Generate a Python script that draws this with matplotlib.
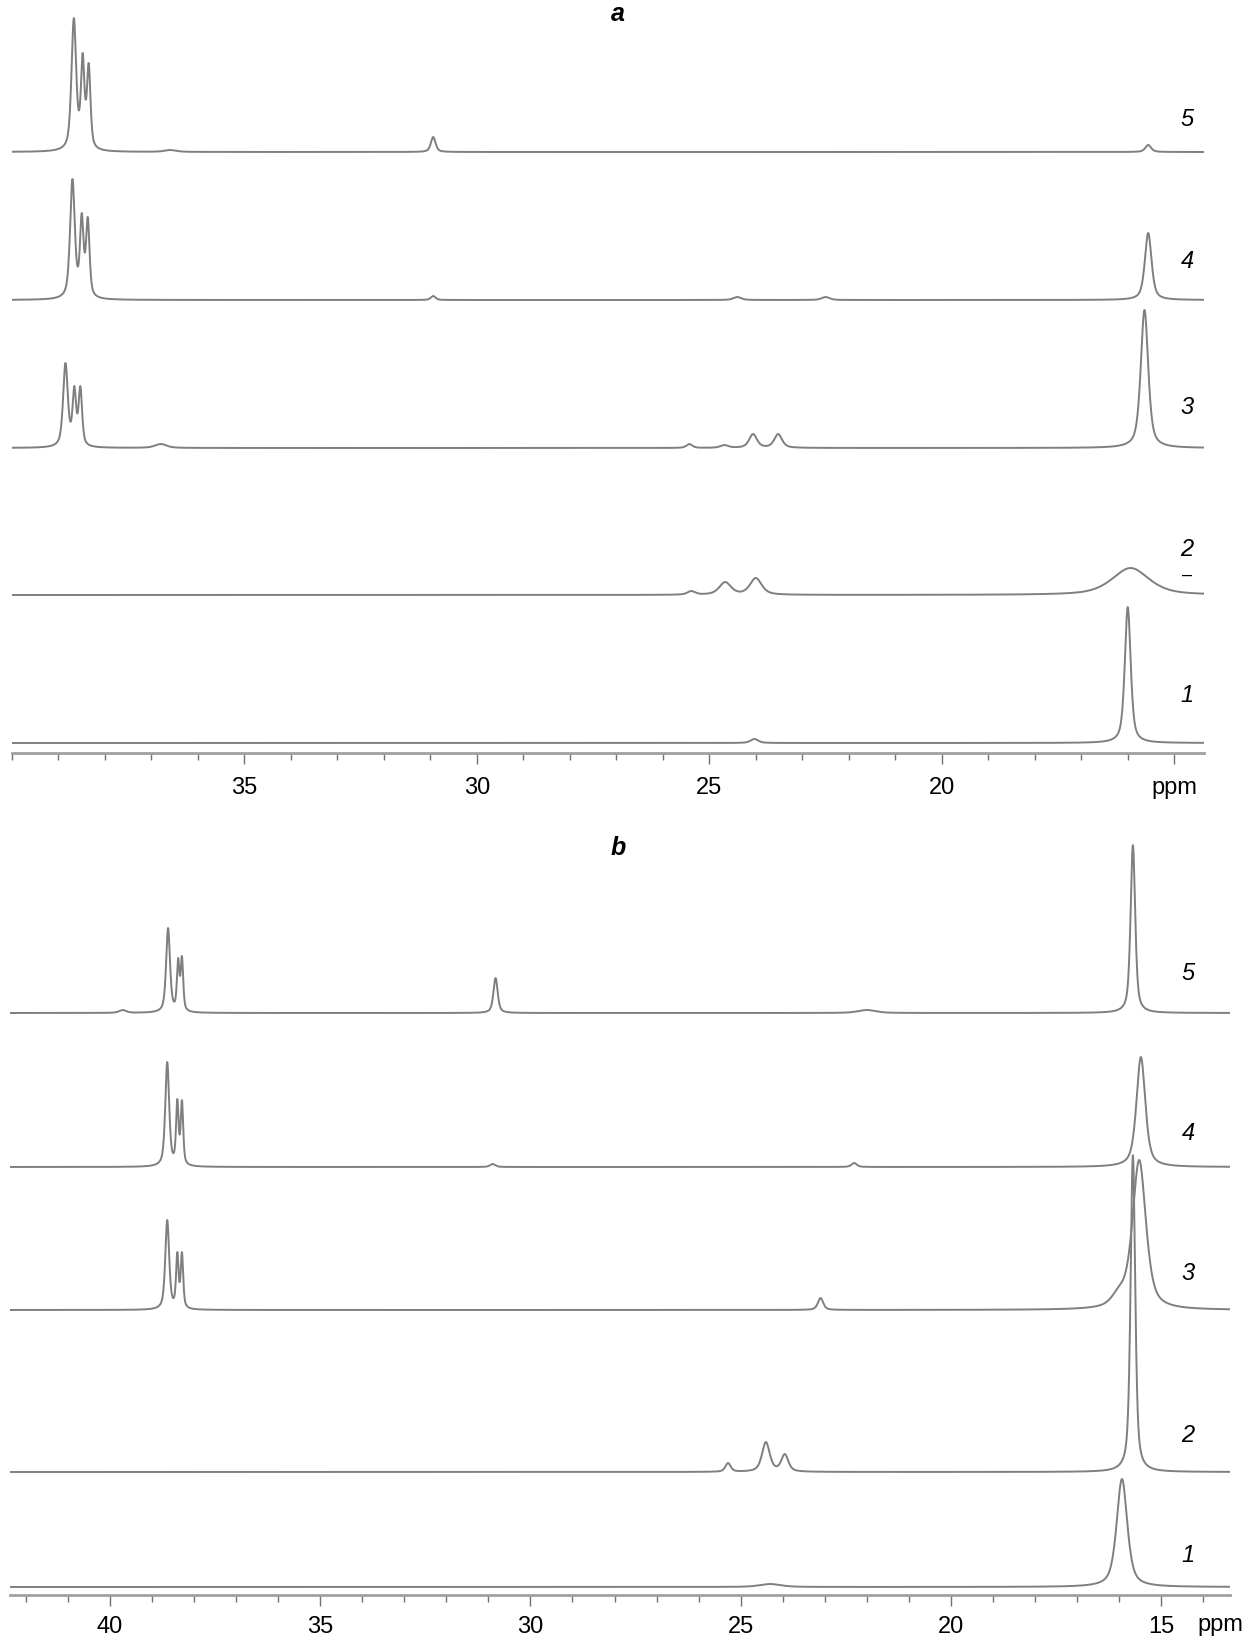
#!/usr/bin/env python
"""
plot.py

Stacked 13C NMR spectra, two panels (a, b), five traces each.
Each trace is built as a sum of pseudo-Voigt lines read off the figure.
Heights are the apex heights seen in the figure (px above the trace baseline).
"""

import numpy as np
import matplotlib
matplotlib.use('Agg')
import matplotlib.pyplot as plt
from matplotlib.ticker import MultipleLocator, FixedLocator

plt.rcParams['font.family'] = ['Liberation Sans', 'DejaVu Sans']

# ---- panel a : peak positions (ppm), apex heights (px), widths (ppm) ----
a5_ppm = [38.67, 38.48, 38.35, 36.6, 30.94, 15.56]
a5_hgt = [134, 99, 89, 2, 15, 7]
a5_wid = [0.12, 0.09, 0.09, 0.3, 0.12, 0.15]

a4_ppm = [38.70, 38.50, 38.37, 30.94, 24.4, 22.5, 15.56]
a4_hgt = [121, 87, 83, 4, 3, 3, 67]
a4_wid = [0.12, 0.09, 0.09, 0.12, 0.2, 0.2, 0.17]

a3_ppm = [38.85, 38.66, 38.53, 36.8, 25.43, 24.68, 24.06, 23.52, 15.64]
a3_hgt = [85, 62, 62, 4, 4, 3, 14, 14, 138]
a3_wid = [0.12, 0.09, 0.09, 0.3, 0.15, 0.2, 0.2, 0.2, 0.19]

a2_ppm = [25.39, 24.66, 24.00, 15.94]
a2_hgt = [4, 13, 17, 27]
a2_wid = [0.2, 0.3, 0.3, 0.95]

a1_ppm = [24.03, 16.00]
a1_hgt = [4, 136]
a1_wid = [0.2, 0.15]

# ---- panel b ----
b5_ppm = [39.7, 38.62, 38.38, 38.29, 30.83, 22.0, 15.67]
b5_hgt = [3, 85, 55, 57, 35, 3, 168]
b5_wid = [0.2, 0.11, 0.07, 0.07, 0.12, 0.5, 0.13]

b4_ppm = [38.64, 38.40, 38.29, 30.9, 22.3, 15.48]
b4_hgt = [105, 68, 67, 3, 4, 110]
b4_wid = [0.11, 0.07, 0.07, 0.15, 0.15, 0.25]

b3_ppm = [38.64, 38.40, 38.29, 23.1, 16.0, 15.52]
b3_hgt = [90, 58, 58, 12, 24, 150]
b3_wid = [0.11, 0.07, 0.07, 0.15, 0.4, 0.38]

b2_ppm = [25.3, 24.40, 23.95, 15.67]
b2_hgt = [9, 30, 18, 317]
b2_wid = [0.15, 0.22, 0.2, 0.13]

b1_ppm = [24.3, 15.93]
b1_hgt = [3, 108]
b1_wid = [0.6, 0.3]

trace_names = ['1', '2', '3', '4', '5']

W, H = 1253, 1642
LINE = '#7f7f7f'
ETA = 0.6   # lorentzian share of the line shape


def line_shape(x, p, w):
    d = (x - p) / w
    lor = 1.0 / (1.0 + 4.0 * d ** 2)
    gau = np.exp(-4.0 * np.log(2.0) * d ** 2)
    return ETA * lor + (1 - ETA) * gau


def spectrum(x, ppm, hgt, wid):
    # amplitudes chosen so that the summed curve hits the apex heights
    ppm = np.asarray(ppm, float)
    m = np.array([[line_shape(pi, pj, wj) for pj, wj in zip(ppm, wid)] for pi in ppm])
    amp = np.linalg.solve(m, np.asarray(hgt, float))
    y = np.zeros_like(x)
    for p, a, w in zip(ppm, amp, wid):
        y += a * line_shape(x, p, w)
    return y


def setup_axis(ax, xl, xr, ylim):
    ax.set_xlim(xl, xr)
    ax.set_ylim(0, ylim)
    for s in ('top', 'left', 'right'):
        ax.spines[s].set_visible(False)
    ax.spines['bottom'].set_color('#a0a0a0')
    ax.spines['bottom'].set_linewidth(2.0)
    ax.set_yticks([])
    ax.xaxis.set_minor_locator(MultipleLocator(1))
    ax.tick_params(axis='x', which='major', direction='out', length=8,
                   width=1.0, color='#707070', labelsize=17, pad=9)
    ax.tick_params(axis='x', which='minor', direction='out', length=5,
                   width=1.0, color='#707070')
    ax.patch.set_alpha(0)


def px_axes(fig, x0, x1, y_top, y_bot):
    # axes given in figure pixels (y counted from the top)
    return fig.add_axes([x0 / W, 1 - y_bot / H, (x1 - x0) / W, (y_bot - y_top) / H])


def main():
    fig = plt.figure(figsize=(W / 100, H / 100), dpi=100)

    # panel a
    axa = px_axes(fig, 12, 1204, 0, 753)
    setup_axis(axa, 40.0, 14.36, 753)
    xa = np.linspace(40.0, 14.36, 6000)
    a_traces = [(a1_ppm, a1_hgt, a1_wid), (a2_ppm, a2_hgt, a2_wid),
                (a3_ppm, a3_hgt, a3_wid), (a4_ppm, a4_hgt, a4_wid),
                (a5_ppm, a5_hgt, a5_wid)]
    a_offsets = [10, 158, 305, 453, 601]
    for (p, h, w), off in zip(a_traces, a_offsets):
        axa.plot(xa, off + spectrum(xa, p, h, w), color=LINE, lw=1.4)
    axa.xaxis.set_major_locator(FixedLocator([35, 30, 25, 20, 15]))
    axa.set_xticklabels(['35', '30', '25', '20', 'ppm'])

    # panel b
    axb = px_axes(fig, 10, 1230, 820, 1595)
    setup_axis(axb, 42.38, 13.36, 775)
    axb.tick_params(axis='x', which='major', pad=7)
    xb = np.linspace(42.38, 13.36, 6000)
    b_traces = [(b1_ppm, b1_hgt, b1_wid), (b2_ppm, b2_hgt, b2_wid),
                (b3_ppm, b3_hgt, b3_wid), (b4_ppm, b4_hgt, b4_wid),
                (b5_ppm, b5_hgt, b5_wid)]
    b_offsets = [8, 123, 285, 428, 582]
    for (p, h, w), off in zip(b_traces, b_offsets):
        axb.plot(xb, off + spectrum(xb, p, h, w), color=LINE, lw=1.4)
    axb.xaxis.set_major_locator(FixedLocator([40, 35, 30, 25, 20, 15]))
    axb.set_xticklabels(['40', '35', '30', '25', '20', '15'])
    fig.text(1220 / W, 1 - 1625 / H, 'ppm', ha='center', va='center', fontsize=17)

    # trace numbers
    a_lab_y = [695, 550, 408, 261, 119]
    b_lab_y = [1555, 1435, 1273, 1133, 973]
    for name, ya, yb in zip(trace_names, a_lab_y, b_lab_y):
        fig.text(1187 / W, 1 - ya / H, name, ha='center', va='center',
                 fontsize=17, style='italic')
        fig.text(1188 / W, 1 - yb / H, name, ha='center', va='center',
                 fontsize=17, style='italic')
    fig.text(1187 / W, 1 - 575 / H, '\u2013', ha='center', va='center', fontsize=13)

    # panel letters
    fig.text(618 / W, 1 - 14 / H, 'a', ha='center', va='center',
             fontsize=18, style='italic', weight='bold')
    fig.text(618 / W, 1 - 848 / H, 'b', ha='center', va='center',
             fontsize=18, style='italic', weight='bold')

    fig.savefig('out.png', dpi=100, facecolor='white')


if __name__ == '__main__':
    main()
